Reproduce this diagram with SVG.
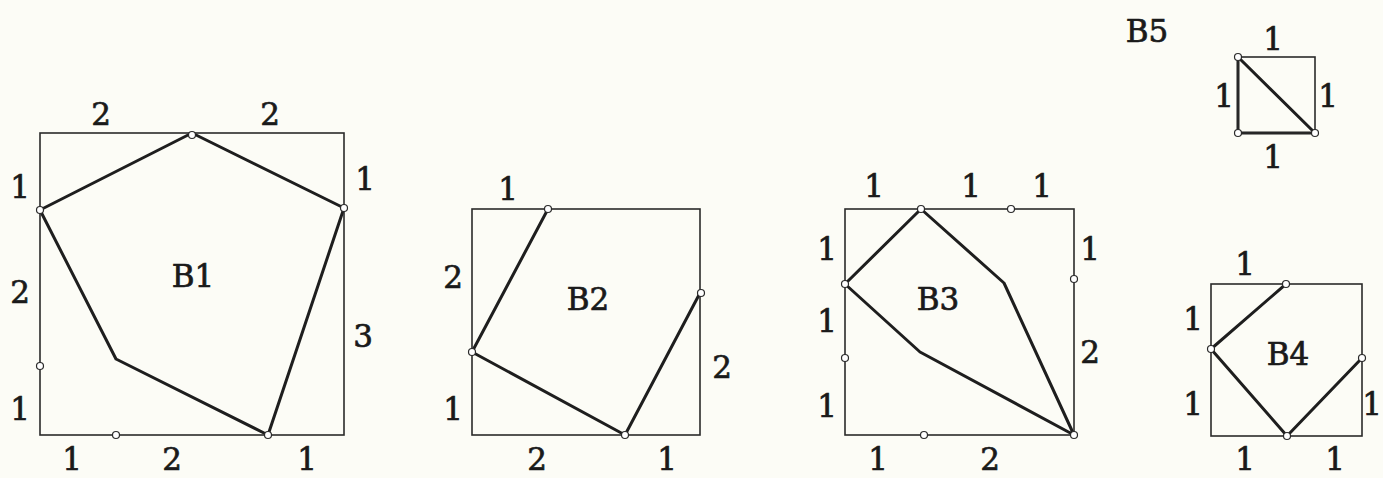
<svg xmlns="http://www.w3.org/2000/svg" width="1383" height="478" viewBox="0 0 1383 478">
<style>
.bg{fill:#fcfcf6}
.box{fill:none;stroke:#2a2a2a;stroke-width:1.6}
.edge{fill:none;stroke:#1e1e1e;stroke-width:3;stroke-linejoin:round;stroke-linecap:round}
.pt{fill:#ffffff;stroke:#2a2a2a;stroke-width:1.2}
text{font-family:"DejaVu Serif","Liberation Serif",serif;font-size:31px;fill:#1a1a1a;stroke:#1a1a1a;stroke-width:0.7;text-anchor:middle}
</style>
<rect class="bg" x="0" y="0" width="1383" height="478"/>
<g id="connectors">
<polygon class="edge" points="192,133 344,208 268,435 116,359 40,210"/>
<polyline class="edge" points="548,209 472,352 625,435 700,293"/>
<polygon class="edge" points="845,284 921,209 1004,283 1074,435 920,352"/>
<polyline class="edge" points="1286,284 1211,349 1287,436 1362,358"/>
<polygon class="edge" points="1238,57 1238,133 1315,133"/>
</g>
<g id="B1">
<rect class="box" x="40" y="133" width="304" height="302"/>
<circle class="pt" cx="192" cy="135" r="3.5"/>
<circle class="pt" cx="40" cy="210" r="3.5"/>
<circle class="pt" cx="344" cy="208" r="3.5"/>
<circle class="pt" cx="268" cy="435" r="3.5"/>
<circle class="pt" cx="40" cy="366" r="3.5"/>
<circle class="pt" cx="116" cy="435" r="3.5"/>
<text x="193" y="287">B1</text>
<text x="101" y="125">2</text>
<text x="270" y="125">2</text>
<text x="20" y="198">1</text>
<text x="20" y="303">2</text>
<text x="20" y="420">1</text>
<text x="365" y="190">1</text>
<text x="363" y="347">3</text>
<text x="72" y="470">1</text>
<text x="172" y="470">2</text>
<text x="307" y="470">1</text>
</g>
<g id="B2">
<rect class="box" x="472" y="209" width="228" height="226"/>
<circle class="pt" cx="548" cy="209" r="3.5"/>
<circle class="pt" cx="472" cy="352" r="3.5"/>
<circle class="pt" cx="625" cy="435" r="3.5"/>
<circle class="pt" cx="701" cy="293" r="3.5"/>
<text x="588" y="310">B2</text>
<text x="508" y="200">1</text>
<text x="453" y="288">2</text>
<text x="453" y="420">1</text>
<text x="722" y="378">2</text>
<text x="537" y="470">2</text>
<text x="667" y="470">1</text>
</g>
<g id="B3">
<rect class="box" x="845" y="209" width="229" height="226"/>
<circle class="pt" cx="921" cy="209" r="3.5"/>
<circle class="pt" cx="1011" cy="209" r="3.5"/>
<circle class="pt" cx="845" cy="284" r="3.5"/>
<circle class="pt" cx="845" cy="358" r="3.5"/>
<circle class="pt" cx="1074" cy="279" r="3.5"/>
<circle class="pt" cx="924" cy="435" r="3.5"/>
<circle class="pt" cx="1074" cy="435" r="3.5"/>
<text x="938" y="310">B3</text>
<text x="874" y="197">1</text>
<text x="971" y="197">1</text>
<text x="1042" y="197">1</text>
<text x="827" y="260">1</text>
<text x="827" y="332">1</text>
<text x="827" y="417">1</text>
<text x="1090" y="260">1</text>
<text x="1090" y="363">2</text>
<text x="878" y="470">1</text>
<text x="990" y="470">2</text>
</g>
<g id="B4">
<rect class="box" x="1211" y="284" width="151" height="152"/>
<circle class="pt" cx="1286" cy="284" r="3.5"/>
<circle class="pt" cx="1211" cy="349" r="3.5"/>
<circle class="pt" cx="1287" cy="436" r="3.5"/>
<circle class="pt" cx="1362" cy="358" r="3.5"/>
<text x="1288" y="365">B4</text>
<text x="1245" y="275">1</text>
<text x="1193" y="330">1</text>
<text x="1193" y="415">1</text>
<text x="1372" y="415">1</text>
<text x="1245" y="470">1</text>
<text x="1335" y="470">1</text>
</g>
<g id="B5">
<rect class="box" x="1238" y="57" width="77" height="76"/>
<circle class="pt" cx="1238" cy="57" r="3.5"/>
<circle class="pt" cx="1238" cy="133" r="3.5"/>
<circle class="pt" cx="1315" cy="133" r="3.5"/>
<text x="1147" y="42">B5</text>
<text x="1273" y="50">1</text>
<text x="1224" y="107">1</text>
<text x="1328" y="107">1</text>
<text x="1273" y="168">1</text>
</g>
</svg>
